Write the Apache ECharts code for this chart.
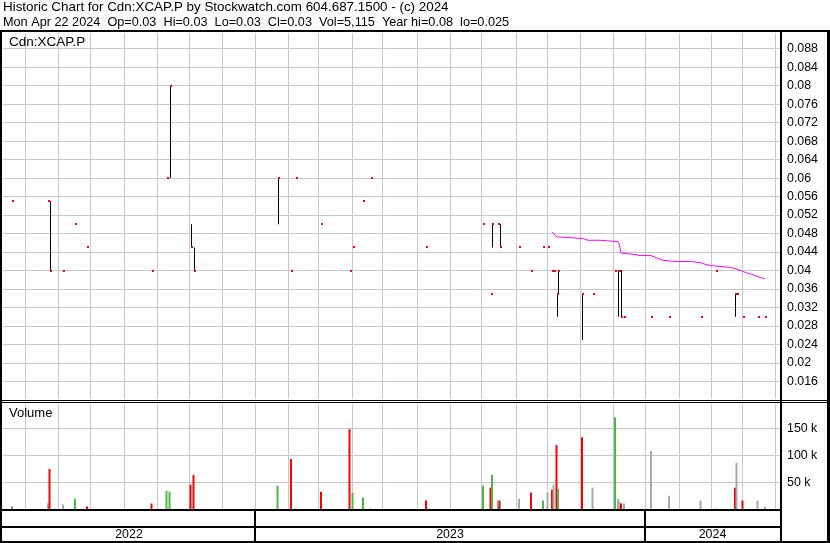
<!DOCTYPE html>
<html><head><meta charset="utf-8">
<script src="https://cdn.jsdelivr.net/npm/echarts@6/dist/echarts.min.js"></script>
<style>html,body{margin:0;padding:0;background:#fff}#c{width:830px;height:543px}</style>
</head><body><div id="c"></div>
<script>
// ---------- data ----------
const AXIS_START = '2022-05-11';
const AXIS_END = '2024-05-06';
const headerLine1 = 'Historic Chart for Cdn:XCAP.P by Stockwatch.com 604.687.1500 - (c) 2024';
const headerLine2 = 'Mon Apr 22 2024  Op=0.03  Hi=0.03  Lo=0.03  Cl=0.03  Vol=5,115  Year hi=0.08  lo=0.025';
const symbolLabel = 'Cdn:XCAP.P';
const volumeLabel = 'Volume';

const dates = ['2022-05-19','2022-06-22','2022-06-23','2022-07-06','2022-07-18','2022-07-28','2022-09-27','2022-10-11','2022-10-13','2022-11-02','2022-11-04',
  '2023-01-23','2023-02-03','2023-02-08','2023-03-03','2023-03-30','2023-04-03','2023-04-12','2023-04-19','2023-06-09','2023-08-02','2023-08-09','2023-08-10',
  '2023-08-16','2023-08-17','2023-09-05','2023-09-15','2023-09-27','2023-10-02','2023-10-05','2023-10-06','2023-10-10','2023-10-11','2023-11-02','2023-11-13',
  '2023-12-04','2023-12-06','2023-12-07','2023-12-08','2023-12-12','2024-01-05','2024-01-23','2024-02-21','2024-03-06','2024-03-25','2024-03-26','2024-04-01',
  '2024-04-15','2024-04-22'];
const highs = [0.055,0.055,0.055,0.04,0.05,0.045,0.04,0.06,0.08,0.05,0.045,
  0.06,0.04,0.06,0.05,0.04,0.045,0.055,0.06,0.045,0.05,0.035,0.05,
  0.05,0.05,0.045,0.04,0.045,0.045,0.04,0.04,0.035,0.04,0.035,0.035,
  0.04,0.04,0.04,0.04,0.03,0.03,0.03,0.03,0.04,0.035,0.035,0.03,
  0.03,0.03];
const lows = [0.055,0.055,0.04,0.04,0.05,0.045,0.04,0.06,0.06,0.045,0.04,
  0.05,0.04,0.06,0.05,0.04,0.045,0.055,0.06,0.045,0.05,0.035,0.045,
  0.05,0.045,0.045,0.04,0.045,0.045,0.04,0.04,0.03,0.035,0.025,0.035,
  0.04,0.03,0.04,0.03,0.03,0.03,0.03,0.03,0.04,0.03,0.035,0.03,
  0.03,0.03];
const closes = [0.055,0.055,0.04,0.04,0.05,0.045,0.04,0.06,0.08,0.045,0.04,
  0.06,0.04,0.06,0.05,0.04,0.045,0.055,0.06,0.045,0.05,0.035,0.05,
  0.05,0.045,0.045,0.04,0.045,0.045,0.04,0.04,0.035,0.04,0.035,0.035,
  0.04,0.04,0.04,0.03,0.03,0.03,0.03,0.03,0.04,0.035,0.035,0.03,
  0.03,0.03];
const volumes = [5500,11500,75000,9200,20000,5500,11000,34800,33000,45800,64000,
  44000,93400,1800,33000,148400,31000,22000,1800,16500,44000,40300,64000,
  16500,16500,20000,31000,16500,31000,36600,45800,119000,38500,133700,40300,
  170300,20000,14700,11000,11000,108000,25600,16500,1800,40300,86000,16500,
  16500,5115];
const priorClose = 0.05;

const maDates = ['2023-10-05','2023-10-10','2023-10-11','2023-10-24','2023-10-25','2023-11-03','2023-11-08','2023-11-20','2023-11-21','2023-12-06','2023-12-07',
  '2023-12-08','2023-12-11','2023-12-22','2023-12-26','2024-01-05','2024-01-08','2024-01-12','2024-01-17','2024-01-23','2024-01-31','2024-02-13','2024-02-14',
  '2024-02-22','2024-02-26','2024-03-01','2024-03-11','2024-03-20','2024-03-27','2024-04-01','2024-04-04','2024-04-09','2024-04-16','2024-04-22'];
const maValues = [0.0484,0.0473,0.0471,0.0471,0.0469,0.0469,0.04655,0.04655,0.04627,0.04627,0.0455,
  0.0438,0.04346,0.04346,0.04324,0.04324,0.04294,0.04259,0.04222,0.0421,0.04195,0.04195,0.04164,
  0.04164,0.04136,0.04108,0.04086,0.04071,0.04022,0.03985,0.03948,0.0392,0.03862,0.03818];

const PRICE_MIN = 0.012, PRICE_MAX = 0.0916, PRICE_STEP = 0.004;
const VOL_MIN = 0, VOL_MAX = 197700, VOL_STEP = 50000;

// ---------- build ----------
const FONT = '"Liberation Sans", Arial, sans-serif';
const GRID_COLOR = '#c8c8c8';
const UP = '#4db848', DOWN = '#ff0000', FLAT = '#a9a9a9';

function buildWeekdays(start, end) {
  const out = [];
  const d = new Date(start + 'T00:00:00Z');
  const e = new Date(end + 'T00:00:00Z');
  while (d <= e) {
    const wd = d.getUTCDay();
    if (wd !== 0 && wd !== 6) out.push(d.toISOString().slice(0, 10));
    d.setUTCDate(d.getUTCDate() + 1);
  }
  return out;
}
const categories = buildWeekdays(AXIS_START, AXIS_END);
const idxOf = d => categories.indexOf(d);
const monthSplit = (i) => i > 0 && categories[i].slice(5, 7) !== categories[i - 1].slice(5, 7);
const yearSplit = (i) => i > 0 && categories[i].slice(0, 4) !== categories[i - 1].slice(0, 4);
const yearStarts = [0];
categories.forEach((c, i) => { if (yearSplit(i)) yearStarts.push(i); });
const yearLabelIdx = new Set(yearStarts.map((s, k) => {
  const e = k + 1 < yearStarts.length ? yearStarts[k + 1] : categories.length - 1;
  return Math.round((s + e) / 2);
}));

const ohlcData = dates.map((d, i) => [idxOf(d), highs[i], lows[i], closes[i]]);
const volData = dates.map((d, i) => {
  const prev = i === 0 ? priorClose : closes[i - 1];
  const col = closes[i] > prev ? UP : (closes[i] < prev ? DOWN : FLAT);
  return { value: [idxOf(d), volumes[i]], itemStyle: { color: col } };
});
const maData = maDates.map((d, i) => [idxOf(d), maValues[i]]);

const chart = echarts.init(document.getElementById('c'), null, { renderer: 'canvas' });
const box = (x, y, w, h, fill, z) => ({ type: 'rect', z: z || 100, silent: true, shape: { x, y, width: w, height: h }, style: { fill: fill || '#000' } });

const option = {
  animation: false,
  backgroundColor: '#ffffff',
  textStyle: { fontFamily: FONT },
  grid: [
    { left: 3, top: 32, width: 777, height: 368, outerBoundsMode: 'none', containLabel: false },
    { left: 3, top: 402.5, width: 777, height: 107, outerBoundsMode: 'none', containLabel: false }
  ],
  xAxis: [
    { type: 'category', gridIndex: 0, data: categories, boundaryGap: false,
      axisLine: { show: false }, axisTick: { show: false }, axisLabel: { show: false },
      splitLine: { show: true, interval: monthSplit, lineStyle: { color: GRID_COLOR, width: 1 } } },
    { type: 'category', gridIndex: 1, data: categories, boundaryGap: false,
      axisLine: { show: false },
      axisTick: { show: true, interval: yearSplit, length: 31.5, lineStyle: { color: '#000', width: 2 } },
      axisLabel: { show: true, interval: (i) => yearLabelIdx.has(i), formatter: v => v.slice(0, 4),
        margin: 25.5, verticalAlign: 'middle', color: '#000', fontSize: 12.4, fontFamily: FONT, hideOverlap: false },
      splitLine: { show: true, interval: monthSplit, lineStyle: { color: GRID_COLOR, width: 1 } } }
  ],
  yAxis: [
    { type: 'value', gridIndex: 0, position: 'right', min: PRICE_MIN, max: PRICE_MAX, interval: PRICE_STEP,
      axisLine: { show: false }, axisTick: { show: false },
      splitLine: { show: true, lineStyle: { color: GRID_COLOR, width: 1 } },
      axisLabel: { color: '#000', fontSize: 12.4, fontFamily: FONT, margin: 7, align: 'left',
        showMinLabel: false, showMaxLabel: false, formatter: v => String(+(+v).toFixed(3)) } },
    { type: 'value', gridIndex: 1, position: 'right', min: VOL_MIN, max: VOL_MAX, interval: VOL_STEP,
      axisLine: { show: false }, axisTick: { show: false },
      splitLine: { show: true, lineStyle: { color: GRID_COLOR, width: 1 } },
      axisLabel: { color: '#000', fontSize: 12.4, fontFamily: FONT, margin: 7, align: 'left',
        showMinLabel: false, showMaxLabel: false, formatter: v => Math.round(v / 1000) + ' k' } }
  ],
  series: [
    { type: 'line', name: 'MA', xAxisIndex: 0, yAxisIndex: 0, data: maData, symbol: 'none', z: 3,
      lineStyle: { color: '#ff00ff', width: 1 }, silent: true },
    { type: 'custom', name: 'Price', xAxisIndex: 0, yAxisIndex: 0, data: ohlcData, z: 4,
      encode: { x: 0, y: [1, 2, 3] },
      renderItem: (params, api) => {
        const i = api.value(0);
        const pH = api.coord([i, api.value(1)]);
        const pL = api.coord([i, api.value(2)]);
        const pC = api.coord([i, api.value(3)]);
        const x = Math.round(pH[0]);
        const children = [];
        if (pL[1] - pH[1] > 0.5) {
          children.push({ type: 'rect', shape: { x: x, y: pH[1], width: 1, height: pL[1] - pH[1] }, style: { fill: '#000' } });
        }
        children.push({ type: 'rect', shape: { x: x, y: Math.round(pC[1]) - 1, width: 2, height: 2 }, style: { fill: '#ff0000' } });
        return { type: 'group', children };
      } },
    { type: 'bar', name: 'Volume', xAxisIndex: 1, yAxisIndex: 1, data: volData, barWidth: 2, barMinHeight: 1, z: 3 }
  ],
  graphic: [
    { type: 'text', left: 3, top: 1, z: 100, style: { text: headerLine1, font: '13.4px ' + FONT, fill: '#000' } },
    { type: 'text', left: 3, top: 16, z: 100, style: { text: headerLine2, font: '12.7px ' + FONT, fill: '#000' } },
    { type: 'text', left: 9, top: 35, z: 100, style: { text: symbolLabel, font: '13.5px ' + FONT, fill: '#000' } },
    { type: 'text', left: 9, top: 407, z: 100, style: { text: volumeLabel, font: '13px ' + FONT, fill: '#000' } },
    box(0, 32, 780, 1, '#ffffff', 99),
    box(0, 399, 830, 5, '#ffffff', 99),
    box(0, 30, 830, 2),
    box(0, 30, 2, 513),
    box(827, 30, 3, 513),
    box(0, 541, 830, 2),
    box(780, 30, 2, 513),
    box(0, 400, 830, 1),
    box(0, 402, 830, 1),
    box(0, 509, 781, 2),
    box(0, 526, 781, 2)
  ]
};
chart.setOption(option);
</script>
</body></html>
